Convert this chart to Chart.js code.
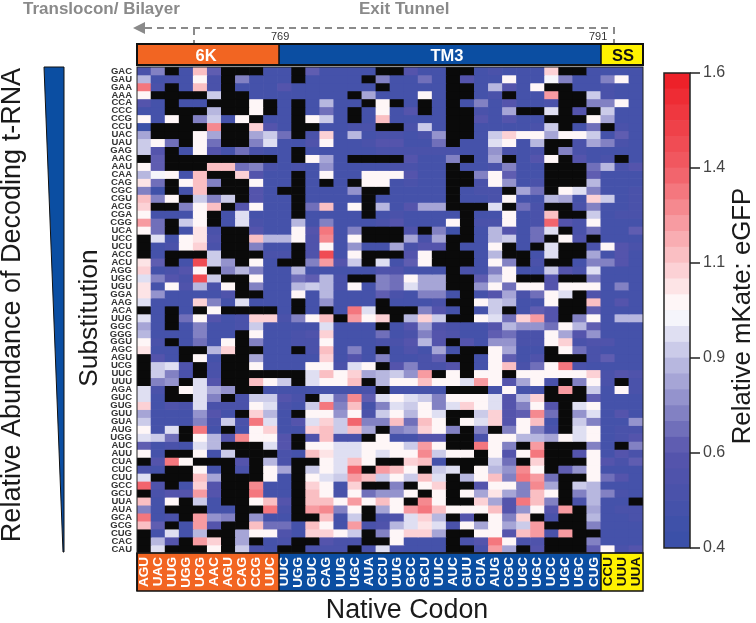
<!DOCTYPE html>
<html>
<head>
<meta charset="utf-8">
<script src="https://cdn.jsdelivr.net/npm/chart.js@4"></script>
<style>
  body { margin: 0; background: #fff; }
  #wrap { position: relative; width: 756px; height: 623px; }
  canvas { position: absolute; left: 0; top: 0; }
</style>
</head>
<body>
<div id="wrap">
  <canvas id="heat" width="756" height="623"></canvas>
  <canvas id="bar" width="756" height="623"></canvas>
</div>
<script>
// codon labels
const nativeCodons = ['AGU','UAC','UUG','UGG','UCG','AAC','AGU','CAG','CCG','UUC',
  'UUC','UGG','GUC','CAG','UUG','UGC','AUA','CCU','UUG','GCC','GCU','UUC','AUC','GUU','CUA','AUG','CGC','UGC','UGC','UCC','UGC','UGC','CUG',
  'CCU','UUU','UUA'];
const substitutions = ['GAC','GAU','GAA','AAA','CCA','CCC','CCG','CCU','UAC','UAU','GAG','AAC','AAU','CAA','CAG','CGC','CGU','ACG','CGA','CGG','UCA','UCC','UCU','ACC','ACU','AGG','UGC','UGU','GGA','AAG','ACA','UUG','GGC','GGG','GGU','AGC','AGU','UCG','UUC','UUU','AGA','GUC','GUG','GUU','GUA','AUG','UGG','AUC','AUU','CUA','CUC','CUU','GCC','GCU','UUA','AUA','GCA','GCG','CUG','CAC','CAU'];

// section names, the strip edges are a little off the cell grid in the original
const sectionNames = ['6K','TM3','SS'];
const sectionEdges = [137,279,601,643];
const sectionColors = ['#f26522','#0b4ea2','#fff200'];
const sectionText = ['#fff','#fff','#111'];

// relative mKate:eGFP, one line per substitution, X = no data (black)
const X = null;
const cellValues = [
[.55,.75,X,.5,1.15,.65,X,X,X,.5,.5,X,.65,.5,.5,.5,.5,X,X,.6,.5,.5,X,X,.5,.55,.5,.5,.5,1.1,X,X,.5,.5,.5,.5],
[.85,.48,.52,.48,1.02,.55,X,.75,.48,.48,.48,X,.48,.48,.48,.48,X,.75,.48,.48,.7,.48,X,.6,.5,.5,1.02,.5,.5,.98,.75,.48,.48,.75,1.02,.5],
[1.3,.55,X,.48,1.12,.55,X,.5,.5,.48,.6,.48,.48,.48,.5,.5,.5,X,.5,.48,.5,.48,X,X,.5,.85,.6,.48,1.02,X,X,.48,.48,.55,.5,.5],
[1.02,X,X,X,X,.88,X,X,.48,.48,.48,.48,.48,.48,.5,X,.8,.48,.48,.48,1.02,.48,X,X,.5,.55,X,.5,.5,1.2,X,X,.9,.55,.5,.5],
[.6,.5,X,.48,.5,X,X,X,1.02,X,.48,X,.48,.85,.5,.5,X,1.0,X,.5,X,.48,X,.48,.75,.48,.6,.5,.5,.55,X,X,.75,.75,1.0,.5],
[.48,.48,X,X,X,.85,X,X,1.02,X,.48,X,.48,.7,.5,X,.48,1.0,.48,.6,X,.48,X,X,.52,.48,.8,X,X,.92,X,.6,X,.9,.5,.5],
[1.02,.48,1.02,X,.75,.9,.48,1.02,X,.48,.48,X,1.02,.9,.5,X,.5,1.12,.48,.5,.48,.48,X,X,.6,.48,.6,.5,.5,X,X,X,1.0,.8,.5,.5],
[.42,X,X,X,X,1.25,X,X,1.1,.6,.48,X,X,.5,.5,.55,.55,X,X,.55,.88,.5,X,X,.5,.5,.5,.5,.55,.9,X,.48,.7,X,.55,.5],
[.8,X,X,X,1.0,.82,X,X,.8,.88,.7,X,.55,1.1,.48,.85,.48,.55,.55,.5,.55,.78,X,X,.5,.88,1.08,1.0,1.02,.82,1.0,1.0,.88,.48,.65,.5],
[.88,1.0,.68,X,1.0,.7,X,X,.72,.92,.48,.5,.58,1.0,.5,.5,.55,.6,.6,.5,.48,.7,X,.48,.48,.95,1.0,.5,.85,X,X,.55,.8,.72,.52,.5],
[.88,.6,X,.48,1.0,.6,.5,.7,.52,.5,.48,X,.5,.5,.5,.5,.5,.52,.52,.55,.55,.52,.52,.5,.5,.78,.52,.5,.55,X,.75,.55,.5,.5,.5,.5],
[X,.65,X,X,X,X,X,X,X,X,.48,X,1.0,.8,.5,X,X,X,X,.6,.5,.5,.75,X,.48,.8,X,.5,.62,1.0,X,.6,.5,.52,X,.5],
[1.0,.65,X,X,X,1.12,1.12,.7,.75,.55,.48,.52,.48,.78,.5,.5,.5,.5,.55,.55,.5,.5,X,.5,.5,.55,.72,.5,.5,X,X,X,.7,.85,.55,.62],
[.85,.98,1.0,.48,1.15,X,X,1.1,.62,.48,.48,X,.48,1.02,.5,.5,1.0,1.02,1.02,.62,.5,.5,X,X,.75,1.0,.65,.5,.5,X,X,X,.65,.5,.5,.5],
[1.05,.7,X,1.02,1.15,.75,X,X,1.02,.5,.48,X,.48,X,.5,X,1.0,1.02,.5,.55,.5,.5,X,X,.55,1.0,.78,.5,.52,X,X,X,.85,.5,.5,.5],
[.75,.45,X,.5,1.15,X,X,X,.6,.5,X,X,.48,.48,.5,.78,X,X,.5,.5,.5,.5,X,.5,.55,.55,X,.82,.7,X,1.0,.95,.75,.5,.5,.55],
[1.15,.72,1.02,X,.9,.75,.88,X,.62,.48,.5,X,.48,.48,.48,.5,X,.5,.5,.5,.5,.5,X,.48,.48,.55,1.02,.5,.5,.85,.82,.5,1.1,.88,.5,.55],
[1.1,X,X,.75,1.02,1.15,X,.62,1.02,.5,.5,X,.7,1.15,.48,1.0,X,.85,.5,.6,.8,.82,X,X,X,.95,X,.7,.55,X,X,.55,.72,.48,.5,.55],
[1.02,.48,.48,.5,1.02,X,.48,.92,.48,.48,.48,X,.48,.48,.48,.48,X,.5,.52,.5,.48,.48,.48,X,.5,.5,1.0,.5,.52,1.15,X,X,.9,.5,.52,.52],
[1.2,.68,X,.9,1.02,X,.48,.92,.55,.48,.48,.85,.48,.75,.48,.48,.48,.55,.6,.5,.48,.48,1.02,X,.52,.52,1.0,.5,.52,1.35,.62,.55,1.0,.5,.5,.5],
[1.02,.68,X,.48,1.05,.55,X,X,.62,.48,.48,1.02,.62,1.3,.48,.75,X,X,X,.58,X,.72,.45,X,.48,.85,.62,.48,.7,.92,X,.55,.7,.48,.5,.65],
[X,.92,.48,1.02,1.05,.58,X,X,1.12,.85,.85,1.02,.58,1.25,.48,1.0,X,X,X,.8,.55,.8,X,X,.48,.85,.88,.5,.7,X,1.02,.58,X,.48,.5,.5],
[X,.5,.52,1.02,1.1,.55,X,X,.75,.48,.48,X,.58,1.02,.48,.78,.48,.5,.8,.55,.62,.62,X,.5,.5,1.0,X,.5,X,.92,X,X,.55,1.0,.62,.52],
[X,.48,X,X,X,.88,X,X,X,.52,.52,X,.58,1.4,.48,1.02,X,X,X,.6,1.02,X,X,X,.48,.85,X,X,.5,.92,X,X,.8,.48,.62,.5],
[1.05,.65,X,.48,1.42,.88,.78,X,1.02,.48,X,X,.75,1.2,.62,.9,X,.95,.5,.65,1.02,X,X,X,.5,1.0,.75,X,.55,X,X,.5,.75,.75,.62,.5],
[1.1,.48,.55,.62,1.02,X,.72,.85,.72,.5,.48,.85,.48,.48,.5,.5,.5,.58,.58,.48,.48,.48,X,.55,.5,.75,1.0,.5,.5,.9,.62,.55,.92,.48,.5,.5],
[.95,.75,.6,.55,1.42,.9,X,X,1.02,.48,.48,.7,.65,.85,.55,X,X,.75,.68,1.0,.8,.8,X,X,.65,.85,1.0,X,X,.6,X,X,.75,.48,.5,.5],
[1.05,.5,1.02,.58,.85,.55,1.0,X,.75,.48,.48,.85,.88,.85,.55,1.02,.5,.75,.7,.92,.8,.8,X,X,.78,1.0,.68,1.0,1.0,.6,1.0,1.0,1.0,.5,.75,.5],
[1.05,.78,.5,.5,.5,.5,.58,X,X,.48,.48,1.02,.48,.85,.48,.48,.48,.65,.52,.48,.72,.72,.48,X,.48,.62,.82,.52,.68,1.02,.92,X,.58,.48,.48,.5],
[.92,.5,.5,.48,1.1,.75,.5,.92,.48,.48,.48,X,.48,.78,.48,.48,.48,X,.48,.5,.5,.55,X,X,1.02,.9,.85,.5,.5,1.02,X,X,1.12,.48,.62,.5],
[X,.48,X,.48,X,1.02,X,X,X,X,.48,X,.48,X,.48,1.3,.92,X,X,X,.72,.62,.48,X,.48,.9,X,.5,.65,.62,X,X,.65,.48,.48,.48],
[.92,.48,X,.68,1.02,.6,.5,.55,1.1,1.1,.55,.72,1.0,1.12,X,1.2,1.02,1.1,X,.85,1.1,.88,X,X,1.02,.95,.68,1.1,1.2,.6,X,.75,1.02,.48,.85,.85],
[.8,.48,X,.5,.75,.5,.5,.52,.9,.48,.48,.48,.5,.92,.5,.48,.48,X,.5,.62,.8,.58,.55,.5,.48,.62,.85,.78,.78,.7,1.0,.85,.65,.48,.48,.48],
[.85,.48,.48,.5,.72,.48,.5,X,1.02,.5,.5,.55,.58,1.1,.48,.48,.48,.7,.48,.55,.75,.6,.58,.48,.5,.65,.7,.55,.55,1.0,.82,.62,.78,.48,.48,.48],
[1.02,.52,X,.48,.7,.48,1.0,X,.72,.5,.5,.52,.52,1.02,.48,.48,.48,.55,.55,.6,.85,.62,X,.6,.48,.78,.78,.55,.55,1.02,1.1,.52,.58,.58,.48,.48],
[1.05,.5,.48,X,X,.85,1.1,X,X,.48,.48,X,.55,1.12,.48,.75,.48,X,.5,.58,.5,.8,.5,X,X,1.0,.82,.5,.5,X,1.02,.7,.55,.48,.48,.48],
[X,.62,.48,X,1.02,.5,X,X,.8,.48,.48,.48,.48,1.1,.5,.62,.5,.75,.48,.5,.55,.65,X,X,.5,1.0,.65,.48,.58,X,X,X,.55,.65,.48,.48],
[X,.88,.92,.58,X,.52,X,X,1.02,.48,.48,.48,1.0,1.0,.55,.92,1.02,X,.62,.75,.55,.55,.6,X,.5,1.0,1.12,.55,.68,1.02,1.3,.55,.5,.48,.48,.48],
[X,.88,.72,.55,X,.55,X,X,X,X,X,X,.95,1.12,1.02,1.1,.82,.85,.9,.78,1.2,X,1.02,X,1.02,1.02,X,1.02,1.02,1.02,1.02,1.02,1.1,.55,.62,.58],
[X,.75,.78,X,.92,.6,X,X,1.12,1.02,.9,X,.92,1.02,1.02,1.15,X,.85,1.02,1.02,1.15,1.02,1.02,.95,1.2,1.02,.62,.82,1.02,.52,X,.72,1.02,.52,X,.55],
[.92,.52,X,1.02,.92,.8,.78,X,X,.48,.48,.5,.5,.5,.5,.5,.55,X,.48,.48,.48,.48,X,X,X,.48,1.02,.48,.48,X,1.2,X,.88,.48,1.02,.52],
[.92,.5,X,X,.92,.72,X,.52,.88,.88,.6,.52,X,.92,.7,1.25,.65,.92,1.02,.95,.9,.75,1.02,1.02,1.02,.92,.6,.85,1.08,X,X,X,.65,.48,.5,.5],
[1.1,.48,.58,.52,.92,.55,.55,.52,1.02,.92,.52,.5,.88,1.3,.72,1.15,.48,.75,.92,.88,1.02,.75,.95,1.08,1.02,.92,.6,.72,1.02,.6,X,.92,1.02,.5,.5,.5],
[.82,.5,.5,.48,.78,.62,.5,X,1.1,.85,.48,X,1.02,1.02,.78,1.02,.55,.88,1.02,.85,1.02,.92,X,X,.88,1.08,.6,.65,1.25,.7,X,.78,.92,.5,.62,.5],
[.88,.5,.5,.48,.75,.52,.88,.55,1.3,.92,.48,.6,.95,1.1,.88,1.35,.75,.72,1.12,.7,1.12,1.02,X,1.02,.92,1.08,.62,1.02,1.15,.5,X,.88,.75,.5,.5,.78],
[1.02,.48,.92,X,1.3,.48,X,.5,1.02,1.1,.48,.5,1.1,1.12,.88,1.12,.8,X,.75,.78,1.1,1.02,.72,X,.72,X,.72,1.02,.75,.55,X,.95,1.02,.5,.55,.55],
[.95,.88,.68,X,1.02,.85,.6,1.25,1.02,1.02,.62,X,.58,1.12,.55,.55,X,1.02,.5,.48,.62,.6,X,X,.55,1.02,1.02,.85,.85,.82,1.02,.95,1.02,.5,.52,.6],
[.65,.48,.55,.48,.95,.85,X,X,X,.92,.6,X,1.02,1.02,.92,.95,1.02,1.02,1.02,.9,1.2,1.02,X,X,1.3,1.02,.72,X,1.2,X,X,X,.75,.5,X,.72],
[1.02,.48,X,X,1.02,.5,.88,X,X,X,.55,.5,1.12,1.05,.92,.95,1.02,.92,1.02,1.02,1.25,.9,1.02,1.02,X,1.02,.6,1.02,1.3,X,X,.6,1.02,.5,.6,.55],
[X,.6,1.3,1.02,X,X,X,.6,X,.85,.52,X,X,1.02,.92,1.12,1.02,X,X,1.1,1.12,.5,X,X,X,.88,.68,X,1.1,X,X,X,1.02,.6,.55,.65],
[.55,.48,X,X,1.02,.48,X,.55,X,1.02,.82,X,.88,1.02,.92,1.35,X,1.2,1.15,1.02,X,.88,.92,X,1.02,.85,.78,1.25,1.02,X,.65,.78,1.02,.48,.48,.5],
[.92,X,X,X,1.15,.8,X,X,X,1.02,.48,X,1.02,.92,.9,1.2,1.15,.9,1.02,.88,1.12,.92,X,.85,1.02,1.15,.75,1.3,1.2,.68,X,X,1.02,.68,.62,.5],
[1.35,.58,X,.48,1.08,.62,X,X,1.25,.48,.48,X,1.1,1.02,.5,1.08,X,X,.75,X,1.02,1.1,X,X,.62,1.02,1.02,.75,1.25,.82,X,.9,.85,.48,.48,.48],
[X,.55,.62,.6,1.2,.6,X,X,1.3,.48,.48,X,1.12,1.02,.52,1.02,.7,.78,.78,1.02,X,1.02,X,1.02,.82,1.05,.82,.72,1.12,1.02,X,.72,.85,.75,.55,.48],
[1.15,.48,1.02,X,.9,.48,X,X,1.02,1.15,.6,X,1.12,1.12,1.02,1.2,1.02,1.15,1.02,X,1.25,1.02,X,X,1.1,.8,.6,1.3,1.12,.75,X,.55,.85,.48,.5,X],
[.72,.48,X,X,X,.5,.5,X,X,1.3,.55,X,1.2,1.25,.75,1.02,X,.8,1.02,1.2,1.3,1.15,1.02,1.02,1.02,1.12,.6,.78,1.02,.6,1.2,X,.82,.5,.52,.55],
[1.3,.48,.52,X,1.2,.78,.72,X,.78,.5,.5,X,X,1.12,.5,.9,X,.55,.58,.92,1.1,.85,X,.6,X,1.02,.72,1.1,X,.55,X,X,.85,.5,.5,.55],
[1.15,.65,X,.5,1.2,.6,X,X,1.12,.68,.7,.48,1.12,1.02,.5,1.2,.52,.58,.85,.92,1.05,.92,.52,1.02,.82,1.02,.82,.9,1.2,X,X,X,.72,.5,.48,.48],
[X,.5,.92,.48,.85,X,X,.82,1.02,1.02,.58,.48,1.1,1.1,1.02,.88,X,.75,1.02,1.1,1.1,.82,X,X,1.02,1.02,.6,1.15,1.2,.55,1.2,X,X,.5,.48,.48],
[X,.85,.62,X,1.2,1.08,X,.8,X,.5,.52,X,X,.6,.52,.55,X,X,1.02,.5,.5,.5,X,.55,.6,1.3,1.02,.55,.58,X,X,X,.72,.5,.48,.48],
[X,.92,X,X,X,1.02,X,.88,.52,.5,X,X,.55,.55,.52,X,.55,.92,.55,.5,.5,.5,X,X,.55,1.2,.8,X,.6,X,X,X,.65,1.02,.52,.6]
];

// colour bar bands, lower edges then upper edges
const bandLow = [.40,.44,.48,.52,.56,.60,.64,.68,.72,.76,.80,.84,.88,.92,.96,1.00,1.04,1.08,1.12,1.16,1.20,1.24,1.28,1.32,1.36,1.40,1.44,1.48,1.52,1.56];
const bandHigh = [.44,.48,.52,.56,.60,.64,.68,.72,.76,.80,.84,.88,.92,.96,1.00,1.04,1.08,1.12,1.16,1.20,1.24,1.28,1.32,1.36,1.40,1.44,1.48,1.52,1.56,1.60];
const barTicks = [.4,.64,.88,1.12,1.36,1.6];

// colour scale stops
const stopValues = [.4,.64,.88,1,1.12,1.36,1.6];
const stopColors = [[56,80,168],[86,84,172],[192,192,228],[255,255,255],[251,200,204],[241,92,100],[237,28,36]];

function colorOf(v) {
    if (v === null) return '#0a0a0a';
    let i = bandLow.findIndex((low, k) => v >= low && v < bandHigh[k]);
    if (i < 0) i = v < .4 ? 0 : bandLow.length - 1;
    const mid = (bandLow[i] + bandHigh[i]) / 2;
    let s = 0;
    while (s < stopValues.length - 2 && mid > stopValues[s + 1]) s++;
    const t = (mid - stopValues[s]) / (stopValues[s + 1] - stopValues[s]);
    const c = stopColors[s].map((a, k) => Math.round(a + (stopColors[s + 1][k] - a) * t));
    return `rgb(${c[0]},${c[1]},${c[2]})`;
}

const ARIAL = '"Liberation Sans", Arial, sans-serif';

function rotText(ctx, text, x, y, font, color) {
    ctx.save();
    ctx.translate(x, y);
    ctx.rotate(-Math.PI / 2);
    ctx.font = font;
    ctx.fillStyle = color;
    ctx.textAlign = 'center';
    ctx.textBaseline = 'middle';
    ctx.fillText(text, 0, 0);
    ctx.restore();
}

// strips behind the tick labels, before the axes get drawn
const stripsPlugin = {
    id: 'strips',
    beforeDraw(chart) {
        const { ctx, chartArea: a } = chart;
        sectionNames.forEach((name, i) => {
            const x0 = sectionEdges[i];
            const x1 = sectionEdges[i + 1];
            ctx.fillStyle = sectionColors[i];
            ctx.fillRect(x0, 44, x1 - x0, 21);
            ctx.fillRect(x0, a.bottom, x1 - x0, 38);
        });
    }
};

// everything around the grid: borders, titles, tunnel arrow, wedge
const notesPlugin = {
    id: 'notes',
    afterDraw(chart) {
        const { ctx, chartArea: a } = chart;
        ctx.save();

        // section borders and names
        ctx.strokeStyle = '#111';
        ctx.lineWidth = 2;
        ctx.strokeRect(a.left, 44, a.width, 21);
        ctx.lineWidth = 1.5;
        ctx.strokeRect(a.left, a.bottom, a.width, 38);
        ctx.lineWidth = 1;
        ctx.strokeStyle = '#222';
        ctx.strokeRect(a.left, a.top, a.width, a.height);
        ctx.textAlign = 'center';
        ctx.textBaseline = 'middle';
        ctx.font = 'bold 16.5px ' + ARIAL;
        const nameX = [206, 447, 623];
        sectionNames.forEach((name, i) => {
            ctx.strokeStyle = '#111';
            ctx.lineWidth = 1.5;
            ctx.beginPath();
            ctx.moveTo(sectionEdges[i], 44);
            ctx.lineTo(sectionEdges[i], 65);
            ctx.moveTo(sectionEdges[i], a.bottom);
            ctx.lineTo(sectionEdges[i], a.bottom + 38);
            ctx.stroke();
            ctx.fillStyle = sectionText[i];
            ctx.fillText(name, nameX[i], 56);
        });

        // tunnel arrow
        ctx.strokeStyle = '#8a8a8a';
        ctx.fillStyle = '#8a8a8a';
        ctx.lineWidth = 2;
        ctx.setLineDash([7, 5]);
        ctx.beginPath();
        ctx.moveTo(145, 28);
        ctx.lineTo(614, 28);
        ctx.lineTo(614, 43);
        ctx.moveTo(194, 28);
        ctx.lineTo(194, 43);
        ctx.stroke();
        ctx.setLineDash([]);
        ctx.beginPath();
        ctx.moveTo(133, 28);
        ctx.lineTo(145, 22);
        ctx.lineTo(145, 34);
        ctx.closePath();
        ctx.fill();

        ctx.font = 'bold 17px ' + ARIAL;
        ctx.textAlign = 'left';
        ctx.textBaseline = 'alphabetic';
        ctx.fillText('Translocon/ Bilayer', 23, 14);
        ctx.fillText('Exit Tunnel', 359, 14);

        ctx.font = '11px ' + ARIAL;
        ctx.fillStyle = '#333';
        ctx.fillText('769', 271, 40);
        ctx.fillText('791', 589, 40);

        // tRNA wedge
        ctx.beginPath();
        ctx.moveTo(44, 67);
        ctx.lineTo(64, 67);
        ctx.lineTo(64, 552);
        ctx.lineTo(63, 552);
        ctx.closePath();
        ctx.fillStyle = '#0b4ea2';
        ctx.fill();
        ctx.strokeStyle = '#111';
        ctx.lineWidth = 1;
        ctx.stroke();

        // titles
        ctx.font = '26.8px ' + ARIAL;
        ctx.fillStyle = '#1a1a1a';
        ctx.textAlign = 'center';
        ctx.fillText('Native Codon', 407, 618);
        rotText(ctx, 'Substitution', 90, 318, '26.3px ' + ARIAL, '#1a1a1a');
        rotText(ctx, 'Relative Abundance of Decoding t-RNA', 13, 305, '27px ' + ARIAL, '#1a1a1a');
        rotText(ctx, 'Relative mKate: eGFP', 743, 316, '25.8px ' + ARIAL, '#1a1a1a');
        ctx.restore();
    }
};

new Chart(document.getElementById('heat').getContext('2d'), {
    type: 'bar',
    data: {
        labels: nativeCodons,
        datasets: cellValues.map((row, i) => ({
            label: substitutions[i],
            data: row.map(() => 1),
            backgroundColor: row.map(colorOf),
            borderWidth: 0,
            stack: 'grid',
            barPercentage: 1,
            categoryPercentage: 1
        }))
    },
    options: {
        responsive: false,
        animation: false,
        layout: { padding: { left: 0, top: 67, right: 113, bottom: 0 } },
        plugins: { legend: { display: false }, tooltip: { enabled: false } },
        scales: {
            x: {
                stacked: true,
                grid: { display: false, drawTicks: false },
                border: { display: false },
                afterFit(s) { s.height = 70; },
                ticks: {
                    autoSkip: false,
                    minRotation: 90,
                    maxRotation: 90,
                    padding: 4,
                    font: { family: ARIAL, size: 13.5, weight: 'bold' },
                    color: c => c.index >= 33 ? '#111' : '#fff'
                }
            },
            y: {
                stacked: true,
                reverse: true,
                min: 0,
                max: substitutions.length,
                grid: { display: false, drawTicks: false },
                border: { display: false },
                afterFit(s) { s.width = 137; },
                afterBuildTicks(s) { s.ticks = substitutions.map((_, i) => ({ value: i + .5 })); },
                ticks: {
                    autoSkip: false,
                    padding: 5,
                    font: { family: ARIAL, size: 9.5, weight: 'bold' },
                    color: '#333',
                    callback: v => substitutions[Math.round(v - .5)]
                }
            }
        }
    },
    plugins: [stripsPlugin, notesPlugin]
});

// colour bar
new Chart(document.getElementById('bar').getContext('2d'), {
    type: 'bar',
    data: {
        labels: ['scale'],
        datasets: bandLow.map((low, i) => ({
            data: [[low, bandHigh[i]]],
            backgroundColor: colorOf(low + .001),
            borderWidth: 0,
            grouped: false,
            barPercentage: 1,
            categoryPercentage: 1
        }))
    },
    options: {
        responsive: false,
        animation: false,
        layout: { padding: { left: 664, top: 73, right: 30, bottom: 75 } },
        plugins: { legend: { display: false }, tooltip: { enabled: false } },
        scales: {
            x: { display: false },
            y: {
                position: 'right',
                min: .4,
                max: 1.6,
                afterFit(s) { s.width = 36; },
                afterBuildTicks(s) { s.ticks = barTicks.map(v => ({ value: v })); },
                grid: { display: false, drawTicks: false },
                border: { display: false },
                ticks: {
                    padding: 13,
                    font: { family: ARIAL, size: 16 },
                    color: '#444',
                    callback: v => v.toFixed(1)
                }
            }
        }
    },
    plugins: [{
        id: 'barBox',
        afterDraw(chart) {
            const { ctx, chartArea: a, scales: { y } } = chart;
            ctx.strokeStyle = '#222';
            ctx.lineWidth = 1.5;
            ctx.strokeRect(a.left, a.top, a.width, a.height);
            ctx.beginPath();
            barTicks.forEach(v => {
                const py = y.getPixelForValue(v);
                ctx.moveTo(a.right, py);
                ctx.lineTo(a.right + 10, py);
            });
            ctx.stroke();
        }
    }]
});
</script>
</body>
</html>
